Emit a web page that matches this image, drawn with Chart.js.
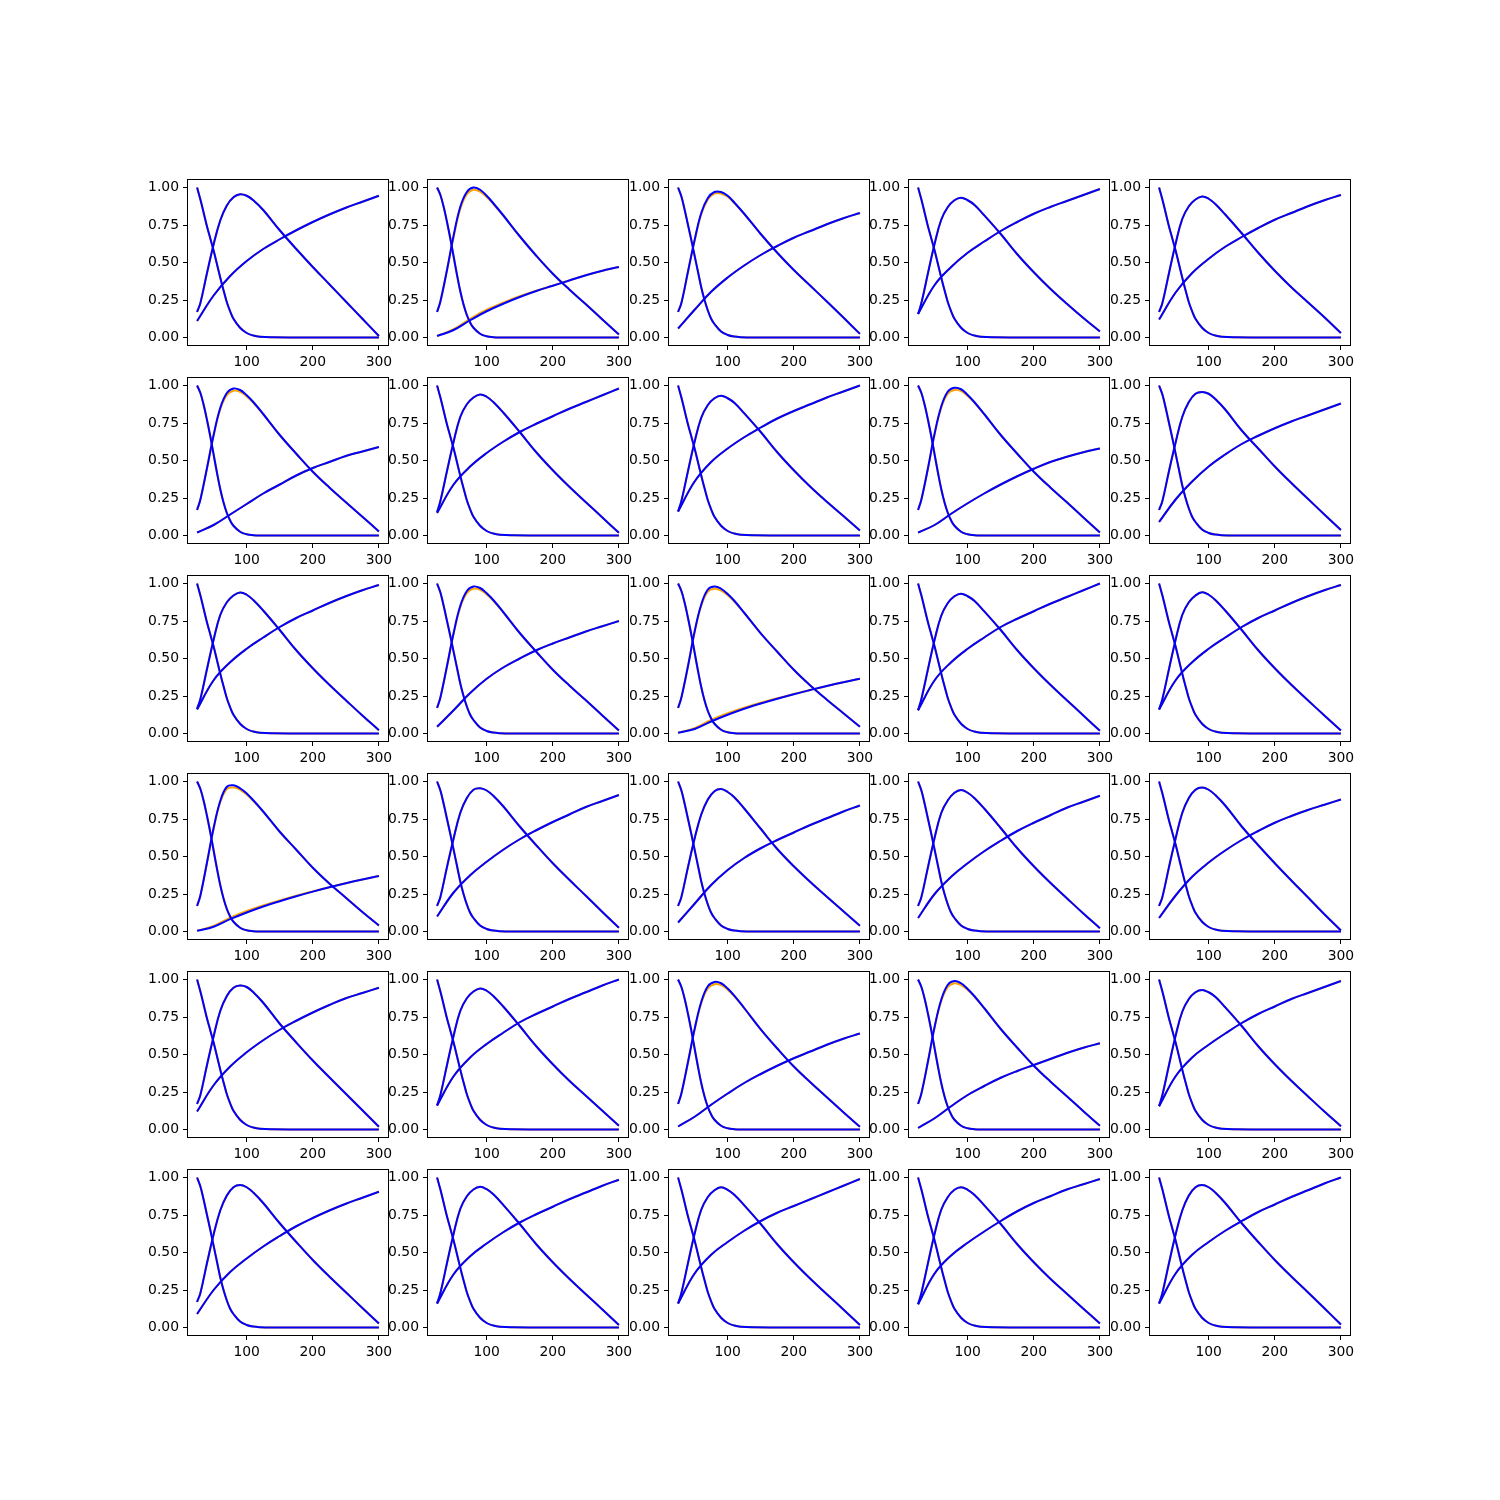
<!DOCTYPE html>
<html><head><meta charset="utf-8">
<script src="https://cdn.jsdelivr.net/npm/chart.js@4.4.1/dist/chart.umd.min.js"></script>
<style>
html,body{margin:0;padding:0;background:#fff;}
#fig{position:relative;width:1500px;height:1500px;background:#fff;overflow:hidden;}
#fig canvas{position:absolute;}
</style>
</head><body><div id="fig"></div>
<script>
// ---------------- data ----------------
const xTicks = [100, 200, 300];
const yTicks = [0, 0.25, 0.5, 0.75, 1.0];

const xDecay = [25,30,35,40,45,50,55,60,65,70,75,80,90,100,110,120,140,170,300];
const decayWide   = [1.0,0.92,0.83,0.74,0.66,0.58,0.49,0.40,0.315,0.235,0.175,0.125,0.065,0.03,0.013,0.005,0.001,0,0];
const decayMid    = [1.0,0.94,0.85,0.75,0.65,0.545,0.44,0.335,0.25,0.18,0.125,0.09,0.04,0.017,0.006,0.002,0,0,0];
const decayNarrow = [1.0,0.95,0.87,0.77,0.66,0.54,0.42,0.31,0.22,0.15,0.10,0.065,0.025,0.008,0.002,0,0,0,0];
const decayType = ['W','N','M','W','W',
                   'N','W','W','N','M',
                   'W','M','N','W','W',
                   'N','M','M','M','W',
                   'W','W','N','N','W',
                   'M','W','W','W','W'];

const xBump = [25,30,40,50,60,70,80,90,100,110,125,150,175,200,225,250,275,300];
const bumpBlue = [
 [0.17,0.23,0.43,0.62,0.78,0.88,0.935,0.955,0.945,0.915,0.85,0.715,0.59,0.47,0.355,0.24,0.125,0.01],
 [0.17,0.24,0.45,0.68,0.87,0.97,1.0,0.985,0.945,0.895,0.815,0.675,0.545,0.425,0.32,0.222,0.12,0.02],
 [0.17,0.23,0.44,0.65,0.83,0.93,0.97,0.97,0.945,0.90,0.825,0.69,0.565,0.45,0.345,0.24,0.133,0.024],
 [0.157,0.23,0.43,0.625,0.785,0.87,0.915,0.932,0.915,0.885,0.815,0.69,0.555,0.435,0.325,0.225,0.13,0.04],
 [0.17,0.23,0.43,0.625,0.79,0.875,0.92,0.94,0.925,0.89,0.82,0.695,0.565,0.445,0.335,0.235,0.135,0.03],

 [0.17,0.24,0.45,0.67,0.85,0.95,0.98,0.97,0.935,0.89,0.81,0.67,0.545,0.425,0.32,0.222,0.125,0.027],
 [0.156,0.23,0.43,0.625,0.79,0.875,0.92,0.94,0.925,0.89,0.82,0.69,0.555,0.435,0.325,0.222,0.12,0.018],
 [0.16,0.23,0.43,0.625,0.785,0.87,0.915,0.932,0.915,0.885,0.815,0.69,0.555,0.435,0.325,0.225,0.13,0.033],
 [0.17,0.24,0.45,0.68,0.86,0.96,0.985,0.975,0.937,0.89,0.81,0.67,0.545,0.425,0.32,0.222,0.12,0.02],
 [0.17,0.23,0.43,0.62,0.79,0.89,0.945,0.957,0.945,0.91,0.84,0.70,0.58,0.46,0.35,0.245,0.14,0.036],

 [0.165,0.23,0.43,0.625,0.79,0.875,0.92,0.94,0.925,0.89,0.82,0.69,0.555,0.435,0.325,0.222,0.12,0.022],
 [0.17,0.24,0.45,0.67,0.85,0.95,0.98,0.97,0.935,0.89,0.81,0.67,0.545,0.425,0.32,0.222,0.12,0.02],
 [0.17,0.24,0.45,0.68,0.86,0.96,0.98,0.965,0.93,0.885,0.805,0.668,0.545,0.425,0.32,0.225,0.135,0.045],
 [0.155,0.23,0.43,0.625,0.785,0.87,0.915,0.932,0.915,0.885,0.815,0.69,0.555,0.435,0.325,0.222,0.12,0.018],
 [0.16,0.23,0.43,0.625,0.79,0.875,0.92,0.942,0.925,0.89,0.82,0.69,0.555,0.435,0.325,0.222,0.12,0.02],

 [0.17,0.24,0.46,0.69,0.87,0.965,0.975,0.955,0.92,0.875,0.80,0.665,0.545,0.425,0.32,0.225,0.13,0.04],
 [0.17,0.23,0.43,0.62,0.79,0.89,0.945,0.955,0.94,0.905,0.835,0.70,0.575,0.455,0.345,0.238,0.13,0.025],
 [0.17,0.23,0.43,0.62,0.78,0.88,0.935,0.95,0.93,0.895,0.82,0.685,0.55,0.435,0.33,0.232,0.135,0.038],
 [0.17,0.23,0.43,0.625,0.79,0.875,0.925,0.944,0.925,0.89,0.82,0.69,0.555,0.435,0.325,0.222,0.12,0.022],
 [0.17,0.23,0.43,0.62,0.79,0.89,0.945,0.96,0.945,0.91,0.84,0.70,0.575,0.455,0.34,0.228,0.115,0.007],

 [0.17,0.23,0.43,0.62,0.79,0.89,0.945,0.96,0.95,0.915,0.845,0.705,0.58,0.46,0.348,0.238,0.128,0.018],
 [0.16,0.23,0.43,0.625,0.79,0.875,0.92,0.94,0.925,0.89,0.82,0.69,0.555,0.435,0.325,0.225,0.125,0.025],
 [0.17,0.24,0.45,0.67,0.85,0.955,0.984,0.975,0.94,0.892,0.81,0.668,0.54,0.42,0.315,0.215,0.115,0.018],
 [0.17,0.24,0.455,0.685,0.865,0.965,0.99,0.975,0.937,0.89,0.81,0.67,0.545,0.425,0.32,0.222,0.122,0.025],
 [0.156,0.23,0.43,0.625,0.785,0.87,0.915,0.93,0.915,0.885,0.815,0.69,0.555,0.435,0.325,0.222,0.12,0.022],

 [0.17,0.23,0.43,0.62,0.78,0.88,0.935,0.95,0.935,0.90,0.83,0.695,0.57,0.45,0.34,0.235,0.13,0.027],
 [0.16,0.23,0.43,0.625,0.79,0.875,0.92,0.938,0.922,0.888,0.818,0.69,0.555,0.435,0.325,0.222,0.12,0.016],
 [0.16,0.23,0.43,0.625,0.785,0.87,0.915,0.935,0.918,0.885,0.815,0.69,0.555,0.435,0.325,0.222,0.12,0.016],
 [0.155,0.23,0.43,0.625,0.785,0.87,0.918,0.935,0.918,0.885,0.815,0.69,0.555,0.435,0.325,0.225,0.125,0.027],
 [0.16,0.23,0.43,0.62,0.78,0.88,0.935,0.95,0.935,0.90,0.83,0.695,0.57,0.45,0.34,0.235,0.128,0.02]
];
// orange bumps that differ visibly from the blue ones (null = same as blue)
const bumpOrange = [
 null,
 [0.17,0.24,0.45,0.67,0.855,0.955,0.985,0.972,0.937,0.89,0.812,0.675,0.545,0.425,0.32,0.222,0.12,0.02],
 [0.17,0.23,0.44,0.645,0.82,0.92,0.96,0.96,0.938,0.896,0.823,0.69,0.565,0.45,0.345,0.24,0.133,0.024],
 null, null,
 [0.17,0.24,0.45,0.665,0.84,0.935,0.965,0.958,0.927,0.885,0.808,0.67,0.545,0.425,0.32,0.222,0.125,0.027],
 null, null,
 [0.17,0.24,0.45,0.675,0.85,0.945,0.97,0.963,0.93,0.886,0.808,0.67,0.545,0.425,0.32,0.222,0.12,0.02],
 null,
 null,
 [0.17,0.24,0.45,0.665,0.84,0.935,0.965,0.958,0.927,0.885,0.808,0.67,0.545,0.425,0.32,0.222,0.12,0.02],
 [0.17,0.24,0.45,0.675,0.85,0.945,0.965,0.953,0.922,0.88,0.803,0.668,0.545,0.425,0.32,0.225,0.135,0.045],
 null, null,
 [0.17,0.24,0.46,0.685,0.86,0.95,0.96,0.945,0.913,0.87,0.798,0.665,0.545,0.425,0.32,0.225,0.13,0.04],
 null, null, null, null,
 null, null,
 [0.17,0.24,0.45,0.665,0.84,0.94,0.968,0.963,0.932,0.887,0.808,0.668,0.54,0.42,0.315,0.215,0.115,0.018],
 [0.17,0.24,0.455,0.68,0.855,0.95,0.975,0.963,0.93,0.886,0.808,0.67,0.545,0.425,0.32,0.222,0.122,0.025],
 null,
 null, null, null, null, null
];

const xRise = [25,50,75,100,125,150,175,200,225,250,275,300];
const riseBlue = [
 [0.11,0.28,0.41,0.51,0.59,0.655,0.715,0.77,0.82,0.865,0.905,0.945],
 [0.01,0.05,0.115,0.175,0.225,0.27,0.31,0.345,0.38,0.415,0.445,0.47],
 [0.06,0.185,0.305,0.40,0.48,0.55,0.61,0.665,0.71,0.755,0.795,0.83],
 [0.157,0.35,0.47,0.565,0.64,0.71,0.77,0.825,0.87,0.91,0.95,0.99],
 [0.12,0.30,0.43,0.525,0.605,0.67,0.73,0.785,0.83,0.875,0.915,0.95],

 [0.02,0.07,0.14,0.21,0.28,0.34,0.40,0.45,0.49,0.53,0.56,0.59],
 [0.15,0.34,0.46,0.55,0.625,0.69,0.745,0.795,0.845,0.89,0.935,0.98],
 [0.16,0.36,0.49,0.58,0.655,0.72,0.78,0.83,0.875,0.92,0.96,1.00],
 [0.02,0.07,0.145,0.215,0.28,0.34,0.395,0.445,0.49,0.525,0.555,0.58],
 [0.09,0.24,0.36,0.46,0.54,0.61,0.665,0.715,0.76,0.80,0.84,0.88],

 [0.16,0.355,0.475,0.565,0.64,0.71,0.77,0.82,0.87,0.915,0.955,0.99],
 [0.045,0.155,0.27,0.365,0.44,0.50,0.555,0.60,0.64,0.68,0.715,0.75],
 [0.005,0.03,0.08,0.125,0.165,0.20,0.232,0.262,0.29,0.317,0.342,0.365],
 [0.155,0.355,0.475,0.565,0.64,0.71,0.765,0.815,0.865,0.91,0.955,1.00],
 [0.16,0.355,0.475,0.565,0.64,0.71,0.77,0.82,0.87,0.915,0.955,0.99],

 [0.005,0.032,0.082,0.127,0.167,0.202,0.235,0.266,0.295,0.322,0.347,0.37],
 [0.10,0.26,0.375,0.465,0.545,0.615,0.675,0.73,0.78,0.83,0.87,0.91],
 [0.06,0.185,0.31,0.41,0.49,0.555,0.61,0.66,0.71,0.755,0.80,0.84],
 [0.09,0.25,0.365,0.455,0.535,0.605,0.67,0.725,0.775,0.825,0.865,0.905],
 [0.09,0.24,0.365,0.46,0.54,0.61,0.67,0.725,0.77,0.81,0.845,0.88],

 [0.12,0.295,0.42,0.515,0.595,0.665,0.725,0.78,0.83,0.875,0.91,0.945],
 [0.16,0.355,0.48,0.57,0.645,0.715,0.77,0.82,0.87,0.915,0.96,1.00],
 [0.02,0.085,0.165,0.24,0.31,0.37,0.425,0.475,0.52,0.565,0.605,0.64],
 [0.01,0.075,0.155,0.23,0.29,0.345,0.39,0.43,0.47,0.51,0.545,0.575],
 [0.155,0.355,0.48,0.565,0.64,0.71,0.77,0.82,0.87,0.91,0.95,0.99],

 [0.09,0.25,0.37,0.46,0.54,0.61,0.675,0.73,0.78,0.825,0.865,0.905],
 [0.16,0.355,0.475,0.56,0.635,0.70,0.755,0.805,0.855,0.90,0.945,0.985],
 [0.16,0.36,0.485,0.57,0.645,0.71,0.765,0.81,0.855,0.90,0.945,0.99],
 [0.155,0.36,0.48,0.565,0.64,0.71,0.775,0.83,0.875,0.92,0.955,0.99],
 [0.16,0.36,0.485,0.57,0.645,0.71,0.77,0.82,0.87,0.915,0.96,1.00]
];
// orange rising curves that differ visibly (null = same as blue)
const riseOrange = [
 null,
 [0.01,0.055,0.125,0.185,0.232,0.275,0.312,0.346,0.38,0.415,0.445,0.47],
 null, null, null,
 null, null, null, null, null,
 null, null,
 [0.005,0.035,0.09,0.135,0.172,0.205,0.235,0.263,0.29,0.317,0.342,0.365],
 null, null,
 [0.005,0.037,0.092,0.137,0.174,0.207,0.238,0.267,0.295,0.322,0.347,0.37],
 null, null, null, null,
 null, null, null, null, null,
 null, null, null, null, null
];

// ---------------- layout (matplotlib-like subplot grid) ----------------
const FIG = 1500, NR = 6, NC = 5;
const LEFT = 0.125, RIGHT = 0.9, BOTTOM = 0.11, TOP = 0.88, SPACE = 0.2;
const axW = (RIGHT - LEFT) * FIG / (NC + (NC - 1) * SPACE);
const axH = (TOP - BOTTOM) * FIG / (NR + (NR - 1) * SPACE);
const PADL = 52, PADT = 14, PADR = 18, PADB = 28;
const ORANGE = '#ffa500', BLUE = '#0000ff';
const FONT = {family: "'DejaVu Sans', sans-serif", size: 13.9};

const boxPlugin = {
  id: 'box',
  afterDatasetsDraw(chart) {
    const a = chart.chartArea, ctx = chart.ctx;
    ctx.save();
    ctx.strokeStyle = '#000';
    ctx.lineWidth = 1;
    ctx.strokeRect(a.left - 0.5, a.top - 0.5, a.right - a.left + 1, a.bottom - a.top + 1);
    ctx.restore();
  }
};

function pts(xs, ys) { return xs.map((x, i) => ({x: x, y: ys[i]})); }
function ds(xs, ys, color, order) {
  return {data: pts(xs, ys), borderColor: color, backgroundColor: color, borderWidth: 2,
          pointRadius: 0, fill: false, tension: 0.4, order: order,
          borderCapStyle: 'butt', borderJoinStyle: 'round'};
}

const fig = document.getElementById('fig');
for (let r = 0; r < NR; r++) {
  for (let c = 0; c < NC; c++) {
    const p = r * NC + c;
    const x0 = Math.round(LEFT * FIG + c * axW * (1 + SPACE));
    const x1 = Math.round(LEFT * FIG + c * axW * (1 + SPACE) + axW);
    const y0 = Math.round((1 - TOP) * FIG + r * axH * (1 + SPACE));
    const y1 = Math.round((1 - TOP) * FIG + r * axH * (1 + SPACE) + axH);
    const cv = document.createElement('canvas');
    const w = (x1 - x0) + PADL + PADR, h = (y1 - y0) + PADT + PADB;
    cv.width = w; cv.height = h;
    cv.style.left = (x0 - PADL) + 'px';
    cv.style.top = (y0 - PADT) + 'px';
    cv.style.width = w + 'px'; cv.style.height = h + 'px';
    fig.appendChild(cv);

    const dec = decayType[p] === 'W' ? decayWide : (decayType[p] === 'M' ? decayMid : decayNarrow);
    const bO = bumpOrange[p] || bumpBlue[p];
    const rO = riseOrange[p] || riseBlue[p];
    const datasets = [
      ds(xDecay, dec, ORANGE, 2),
      ds(xBump, bO, ORANGE, 2),
      ds(xRise, rO, ORANGE, 2),
      ds(xDecay, dec, BLUE, 1),
      ds(xBump, bumpBlue[p], BLUE, 1),
      ds(xRise, riseBlue[p], BLUE, 1)
    ];

    new Chart(cv, {
      type: 'line',
      data: {datasets: datasets},
      options: {
        responsive: false, maintainAspectRatio: false, animation: false, devicePixelRatio: 1,
        events: [],
        layout: {padding: {left: 0, top: PADT, right: PADR, bottom: 0}},
        plugins: {legend: {display: false}, tooltip: {enabled: false}, title: {display: false}},
        scales: {
          x: {
            type: 'linear', min: 11.25, max: 313.75,
            afterBuildTicks: s => { s.ticks = xTicks.map(v => ({value: v})); },
            afterFit: s => { s.height = PADB; },
            grid: {drawOnChartArea: false, drawTicks: true, tickLength: 5, color: '#000', lineWidth: 1},
            border: {display: false},
            ticks: {color: '#000', font: FONT, padding: 4, maxRotation: 0, autoSkip: false,
                    callback: v => String(v)}
          },
          y: {
            type: 'linear', min: -0.05, max: 1.05,
            afterBuildTicks: s => { s.ticks = yTicks.map(v => ({value: v})); },
            afterFit: s => { s.width = PADL; },
            grid: {drawOnChartArea: false, drawTicks: true, tickLength: 5, color: '#000', lineWidth: 1},
            border: {display: false},
            ticks: {color: '#000', font: FONT, padding: 4, autoSkip: false,
                    callback: v => Number(v).toFixed(2)}
          }
        }
      },
      plugins: [boxPlugin]
    });
  }
}
</script>
</body></html>
